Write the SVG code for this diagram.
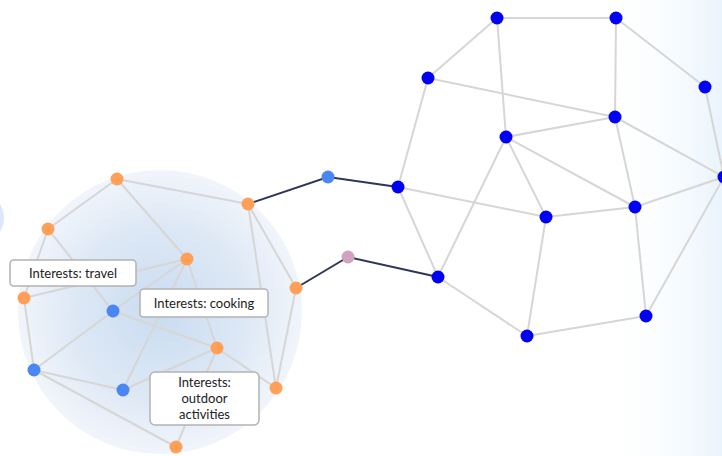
<svg xmlns="http://www.w3.org/2000/svg" width="722" height="456" viewBox="0 0 722 456">
  <defs>
    <radialGradient id="clusterGlow" cx="0.5" cy="0.5" r="0.5">
      <stop offset="0" stop-color="#c9dcf1"/>
      <stop offset="0.6" stop-color="#dde8f5"/>
      <stop offset="1" stop-color="#f1f5fb"/>
    </radialGradient>
    <linearGradient id="edgeFade" x1="0" y1="0" x2="1" y2="0">
      <stop offset="0" stop-color="#ffffff" stop-opacity="0"/>
      <stop offset="1" stop-color="#eaf4fc"/>
    </linearGradient>
    <style>
      .edge { stroke: #d6d6d6; stroke-width: 2; fill: none; }
      .bridge { stroke: #2d3658; stroke-width: 2; fill: none; }
      .orange { fill: #ff9f58; }
      .member { fill: #4a87f5; }
      .hub { fill: #0000f5; }
      .link { fill: #d1a2bd; }
      .tag rect { fill: #ffffff; stroke: #b3b3b3; stroke-width: 1.5; }
      .tag text { font-family: "Lato", "Open Sans", sans-serif; font-size: 13px; fill: #222222; text-anchor: middle; }
    </style>
  </defs>

  <!-- backdrop -->
  <rect x="0" y="0" width="722" height="456" fill="#ffffff"/>
  <rect x="600" y="0" width="122" height="456" fill="url(#edgeFade)"/>
  <ellipse cx="-60" cy="218" rx="64" ry="40" fill="#dde7fb"/>
  <circle cx="160" cy="312" r="142" fill="url(#clusterGlow)"/>

  <!-- connectors -->
  <g id="connectors">
    <!-- left community -->
    <line class="edge" x1="117" y1="179" x2="248" y2="204"/>
    <line class="edge" x1="117" y1="179" x2="48" y2="229"/>
    <line class="edge" x1="117" y1="179" x2="187" y2="259"/>
    <line class="edge" x1="48" y1="229" x2="113" y2="311"/>
    <line class="edge" x1="48" y1="229" x2="24" y2="298"/>
    <line class="edge" x1="24" y1="298" x2="187" y2="259"/>
    <line class="edge" x1="24" y1="298" x2="34" y2="370"/>
    <line class="edge" x1="113" y1="311" x2="187" y2="259"/>
    <line class="edge" x1="113" y1="311" x2="34" y2="370"/>
    <line class="edge" x1="113" y1="311" x2="217" y2="348"/>
    <line class="edge" x1="187" y1="259" x2="123" y2="390"/>
    <line class="edge" x1="187" y1="259" x2="217" y2="348"/>
    <line class="edge" x1="248" y1="204" x2="296" y2="288"/>
    <line class="edge" x1="248" y1="204" x2="276" y2="388"/>
    <line class="edge" x1="296" y1="288" x2="276" y2="388"/>
    <line class="edge" x1="217" y1="348" x2="276" y2="388"/>
    <line class="edge" x1="217" y1="348" x2="123" y2="390"/>
    <line class="edge" x1="217" y1="348" x2="176" y2="447"/>
    <line class="edge" x1="34" y1="370" x2="123" y2="390"/>
    <line class="edge" x1="34" y1="370" x2="176" y2="447"/>

    <!-- right community -->
    <line class="edge" x1="497" y1="18" x2="616" y2="18"/>
    <line class="edge" x1="497" y1="18" x2="428" y2="78"/>
    <line class="edge" x1="497" y1="18" x2="506" y2="137"/>
    <line class="edge" x1="616" y1="18" x2="615" y2="117"/>
    <line class="edge" x1="616" y1="18" x2="705" y2="87"/>
    <line class="edge" x1="428" y1="78" x2="615" y2="117"/>
    <line class="edge" x1="428" y1="78" x2="398" y2="187"/>
    <line class="edge" x1="506" y1="137" x2="615" y2="117"/>
    <line class="edge" x1="506" y1="137" x2="635" y2="207"/>
    <line class="edge" x1="506" y1="137" x2="546" y2="217"/>
    <line class="edge" x1="506" y1="137" x2="438" y2="277"/>
    <line class="edge" x1="615" y1="117" x2="724" y2="177"/>
    <line class="edge" x1="615" y1="117" x2="635" y2="207"/>
    <line class="edge" x1="705" y1="87" x2="724" y2="177"/>
    <line class="edge" x1="398" y1="187" x2="546" y2="217"/>
    <line class="edge" x1="398" y1="187" x2="438" y2="277"/>
    <line class="edge" x1="546" y1="217" x2="635" y2="207"/>
    <line class="edge" x1="546" y1="217" x2="527" y2="336"/>
    <line class="edge" x1="635" y1="207" x2="724" y2="177"/>
    <line class="edge" x1="635" y1="207" x2="646" y2="316"/>
    <line class="edge" x1="724" y1="177" x2="646" y2="316"/>
    <line class="edge" x1="438" y1="277" x2="527" y2="336"/>
    <line class="edge" x1="527" y1="336" x2="646" y2="316"/>

    <!-- bridges between communities -->
    <polyline class="bridge" points="248,204 328,177 398,187"/>
    <polyline class="bridge" points="296,288 348,257 438,277"/>
  </g>

  <!-- left community nodes -->
  <g id="n-a1"><circle class="orange" cx="117" cy="179" r="6.5"/></g>
  <g id="n-a2"><circle class="orange" cx="248" cy="204" r="6.5"/></g>
  <g id="n-a3"><circle class="orange" cx="48" cy="229" r="6.5"/></g>
  <g id="n-a4"><circle class="orange" cx="187" cy="259" r="6.5"/></g>
  <g id="n-a5"><circle class="orange" cx="24" cy="298" r="6.5"/></g>
  <g id="n-a6"><circle class="orange" cx="296" cy="288" r="6.5"/></g>
  <g id="n-a7"><circle class="orange" cx="217" cy="348" r="6.5"/></g>
  <g id="n-a8"><circle class="orange" cx="276" cy="388" r="6.5"/></g>
  <g id="n-a9"><circle class="orange" cx="176" cy="447" r="6.5"/></g>
  <g id="n-m1"><circle class="member" cx="113" cy="311" r="6.5"/></g>
  <g id="n-m2"><circle class="member" cx="34" cy="370" r="6.5"/></g>
  <g id="n-m3"><circle class="member" cx="123" cy="390" r="6.5"/></g>

  <!-- bridge nodes -->
  <g id="n-bridge1"><circle class="member" cx="328" cy="177" r="6.5"/></g>
  <g id="n-bridge2"><circle class="link" cx="348" cy="257" r="6.5"/></g>

  <!-- right community nodes -->
  <g id="n-b1"><circle class="hub" cx="497" cy="18" r="6.5"/></g>
  <g id="n-b2"><circle class="hub" cx="616" cy="18" r="6.5"/></g>
  <g id="n-b3"><circle class="hub" cx="428" cy="78" r="6.5"/></g>
  <g id="n-b4"><circle class="hub" cx="705" cy="87" r="6.5"/></g>
  <g id="n-b5"><circle class="hub" cx="615" cy="117" r="6.5"/></g>
  <g id="n-b6"><circle class="hub" cx="506" cy="137" r="6.5"/></g>
  <g id="n-b7"><circle class="hub" cx="398" cy="187" r="6.5"/></g>
  <g id="n-b8"><circle class="hub" cx="724" cy="177" r="6.5"/></g>
  <g id="n-b9"><circle class="hub" cx="546" cy="217" r="6.5"/></g>
  <g id="n-b10"><circle class="hub" cx="635" cy="207" r="6.5"/></g>
  <g id="n-b11"><circle class="hub" cx="438" cy="277" r="6.5"/></g>
  <g id="n-b12"><circle class="hub" cx="527" cy="336" r="6.5"/></g>
  <g id="n-b13"><circle class="hub" cx="646" cy="316" r="6.5"/></g>

  <!-- interest tags -->
  <g id="tag-travel" class="tag">
    <rect x="10" y="260" width="126" height="26" rx="3.5"/>
    <text x="73" y="278">Interests: travel</text>
  </g>
  <g id="tag-cooking" class="tag">
    <rect x="140" y="289" width="128" height="28" rx="3.5"/>
    <text x="204" y="308">Interests: cooking</text>
  </g>
  <g id="tag-outdoor" class="tag">
    <rect x="150" y="372" width="109" height="53" rx="5"/>
    <text x="204.5" y="387">Interests:</text>
    <text x="204.5" y="403">outdoor</text>
    <text x="204.5" y="419">activities</text>
  </g>
</svg>
